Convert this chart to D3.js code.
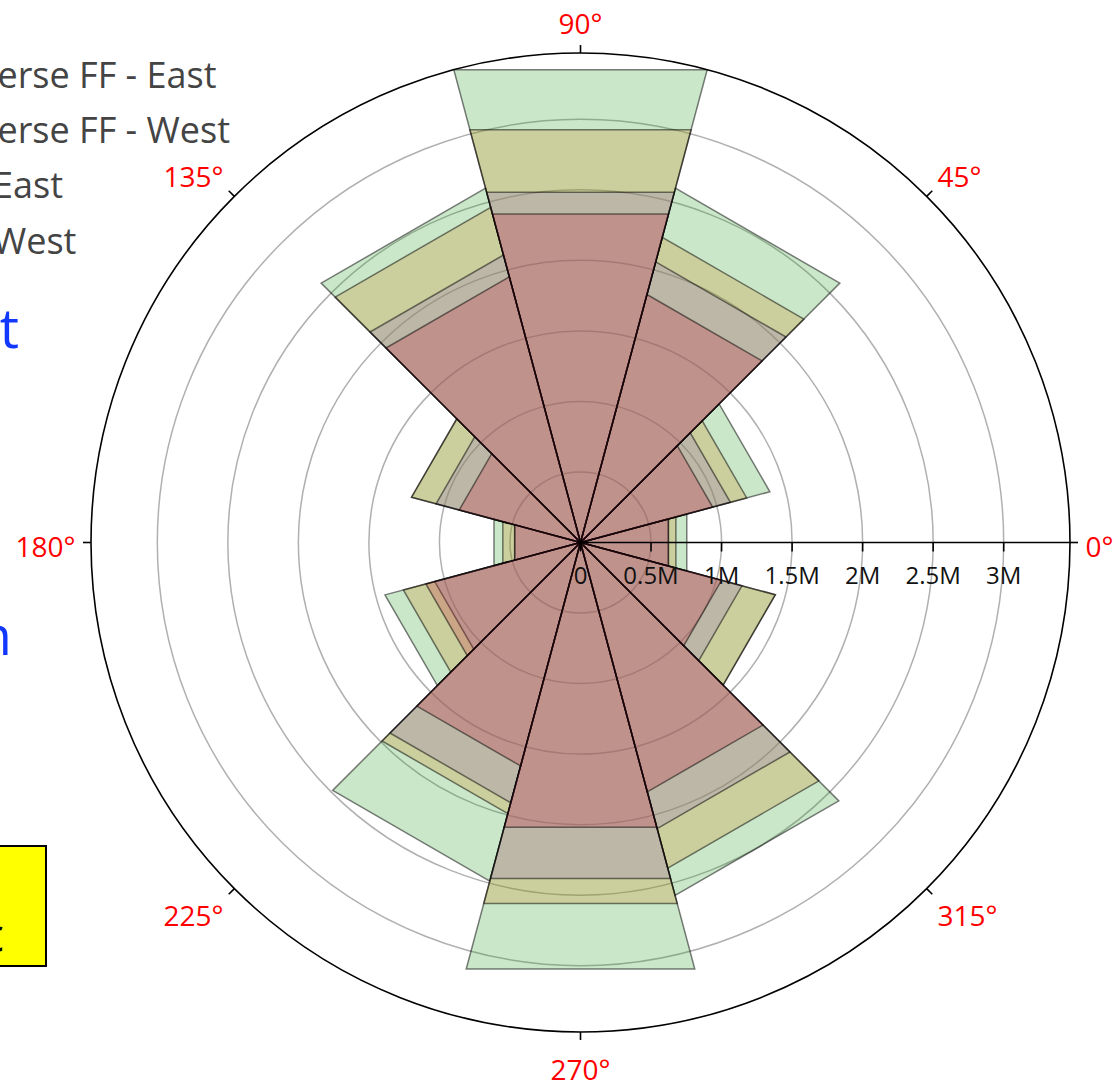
<!DOCTYPE html>
<html>
<head>
<meta charset="utf-8">
<script src="https://cdn.jsdelivr.net/npm/d3@7"></script>
<style>
  html, body { margin: 0; padding: 0; background: #fff; }
  svg { display: block; }
  text { font-family: "Open Sans", "Noto Sans", sans-serif; }
</style>
</head>
<body>
<svg id="chart" width="1115" height="1081"></svg>
<script>
// Bin centres (degrees, counter-clockwise from east); each bin is 30° wide
const directions = [0, 30, 60, 90, 120, 150, 180, 210, 240, 270, 300, 330];
const binWidth = 30;

// Series values per bin (overlaid, not stacked)
const seriesNames = ["Reverse FF - East", "Reverse FF - West", "FF: East", "FF: West"];
const reverseFFEast = [780000, 1390000, 2600000, 3470000, 2600000, 1240000, 635000, 1435000, 2485000, 3130000, 2590000, 1430000];
const reverseFFWest = [700000, 1220000, 2240000, 3030000, 2460000, 1240000, 570000, 1300000, 1990000, 2650000, 2390000, 1430000];
const ffEast        = [645000, 1100000, 2060000, 2570000, 2110000, 1060000, 483000, 1070000, 1910000, 2465000, 2100000, 1185000];
const ffWest        = [645000,  970000, 1820000, 2410000, 1950000,  890000, 483000, 1135000, 1640000, 2090000, 1830000, 1035000];
const seriesValues = [reverseFFEast, reverseFFWest, ffEast, ffWest];
const seriesColors = ["rgb(44,160,44)", "rgb(209,134,29)", "rgb(143,110,190)", "rgb(200,38,62)"];

// Axis ticks
const radialTicks = [0, 500000, 1000000, 1500000, 2000000, 2500000, 3000000];
const angularTicks = [0, 45, 90, 135, 180, 225, 270, 315];

// Side notes (partly outside the view)
const annotationTexts = ["North–South dominant", "East–West pattern"];
const boxText = "Units: vehicles / sec";

const svg = d3.select("#chart");
const cx = 580.5, cy = 542.5, R = 489.5;
const rad = d => d * Math.PI / 180;

const rMax = d3.max(seriesValues.flat());
const r = d3.scaleLinear().domain([0, rMax]).range([0, R]);

const polar = svg.append("g").attr("transform", `translate(${cx},${cy})`);

// radial grid circles
polar.append("g").selectAll("circle")
  .data(radialTicks.filter(t => t > 0))
  .join("circle")
  .attr("r", d => r(d))
  .attr("fill", "none")
  .attr("stroke", "#b0b0b0")
  .attr("stroke-width", 1.5);

// bars: each bin is a wedge with a straight outer edge
// d3.lineRadial measures angle clockwise from 12 o'clock
const wedge = d3.lineRadial()
  .angle(p => rad(90 - p.deg))
  .radius(p => r(p.v))
  .curve(d3.curveLinearClosed);

const barLayer = polar.append("g");
seriesValues.forEach((vals, si) => {
  barLayer.append("g")
    .attr("class", "series")
    .selectAll("path")
    .data(directions.map((deg, i) => ({ deg, v: vals[i] })))
    .join("path")
    .attr("d", d => wedge([
      { deg: d.deg, v: 0 },
      { deg: d.deg - binWidth / 2, v: d.v },
      { deg: d.deg + binWidth / 2, v: d.v }
    ]))
    .attr("fill", seriesColors[si])
    .attr("fill-opacity", 0.25)
    .attr("stroke", "rgba(0,0,0,0.5)")
    .attr("stroke-width", 1.5)
    .attr("stroke-linejoin", "miter");
});

// outer boundary
polar.append("circle")
  .attr("r", R)
  .attr("fill", "none")
  .attr("stroke", "#000")
  .attr("stroke-width", 1.6);

// radial axis along 0°
const radialAxis = polar.append("g");
radialAxis.append("line")
  .attr("x1", 0).attr("y1", 0).attr("x2", R).attr("y2", 0)
  .attr("stroke", "#000").attr("stroke-width", 1.6);
radialAxis.selectAll("line.tick")
  .data(radialTicks)
  .join("line")
  .attr("class", "tick")
  .attr("x1", d => r(d)).attr("x2", d => r(d))
  .attr("y1", 0).attr("y2", 9)
  .attr("stroke", "#000").attr("stroke-width", 1.6);
radialAxis.selectAll("text")
  .data(radialTicks)
  .join("text")
  .attr("x", d => r(d))
  .attr("y", 41.5)
  .attr("text-anchor", "middle")
  .attr("font-size", 24)
  .attr("fill", "#111")
  .text(d => d === 0 ? "0" : `${d / 1e6}M`);

// angular ticks and labels
const angAxis = polar.append("g");
angAxis.selectAll("line")
  .data(angularTicks)
  .join("line")
  .attr("x1", d => R * Math.cos(rad(d)))
  .attr("y1", d => -R * Math.sin(rad(d)))
  .attr("x2", d => (R + 8) * Math.cos(rad(d)))
  .attr("y2", d => -(R + 8) * Math.sin(rad(d)))
  .attr("stroke", "#000").attr("stroke-width", 1.6);

const labelR = 505;
angAxis.selectAll("text")
  .data(angularTicks)
  .join("text")
  .attr("x", d => labelR * Math.cos(rad(d)))
  .attr("y", d => -(labelR + 18) * Math.sin(rad(d)) + 14)
  .attr("text-anchor", d => {
    const c = Math.cos(rad(d));
    return Math.abs(c) < 0.01 ? "middle" : (c > 0 ? "start" : "end");
  })
  .attr("font-size", 28)
  .attr("fill", "#ff0000")
  .text(d => `${d}°`);

// legend (text column starts left of the view)
const legend = svg.append("g").attr("transform", "translate(-63,0)");
legend.selectAll("text")
  .data(seriesNames)
  .join("text")
  .attr("x", 0)
  .attr("y", (d, i) => 88 + i * 55.2)
  .attr("font-size", 36)
  .attr("fill", "#444")
  .text(d => d);

// blue notes
svg.append("g").selectAll("text")
  .data(annotationTexts)
  .join("text")
  .attr("x", (d, i) => i === 0 ? 19 : 12)
  .attr("y", (d, i) => i === 0 ? 348 : 655)
  .attr("text-anchor", "end")
  .attr("font-size", 54)
  .attr("fill", "#1238ff")
  .text(d => d);

// yellow boxed note
const box = svg.append("g");
box.append("rect")
  .attr("x", -420).attr("y", 846)
  .attr("width", 466).attr("height", 120)
  .attr("fill", "#ffff00")
  .attr("stroke", "#000")
  .attr("stroke-width", 2);
box.append("text")
  .attr("x", 4)
  .attr("y", 952)
  .attr("text-anchor", "end")
  .attr("font-size", 48)
  .attr("fill", "#000")
  .text(boxText);
</script>
</body>
</html>
